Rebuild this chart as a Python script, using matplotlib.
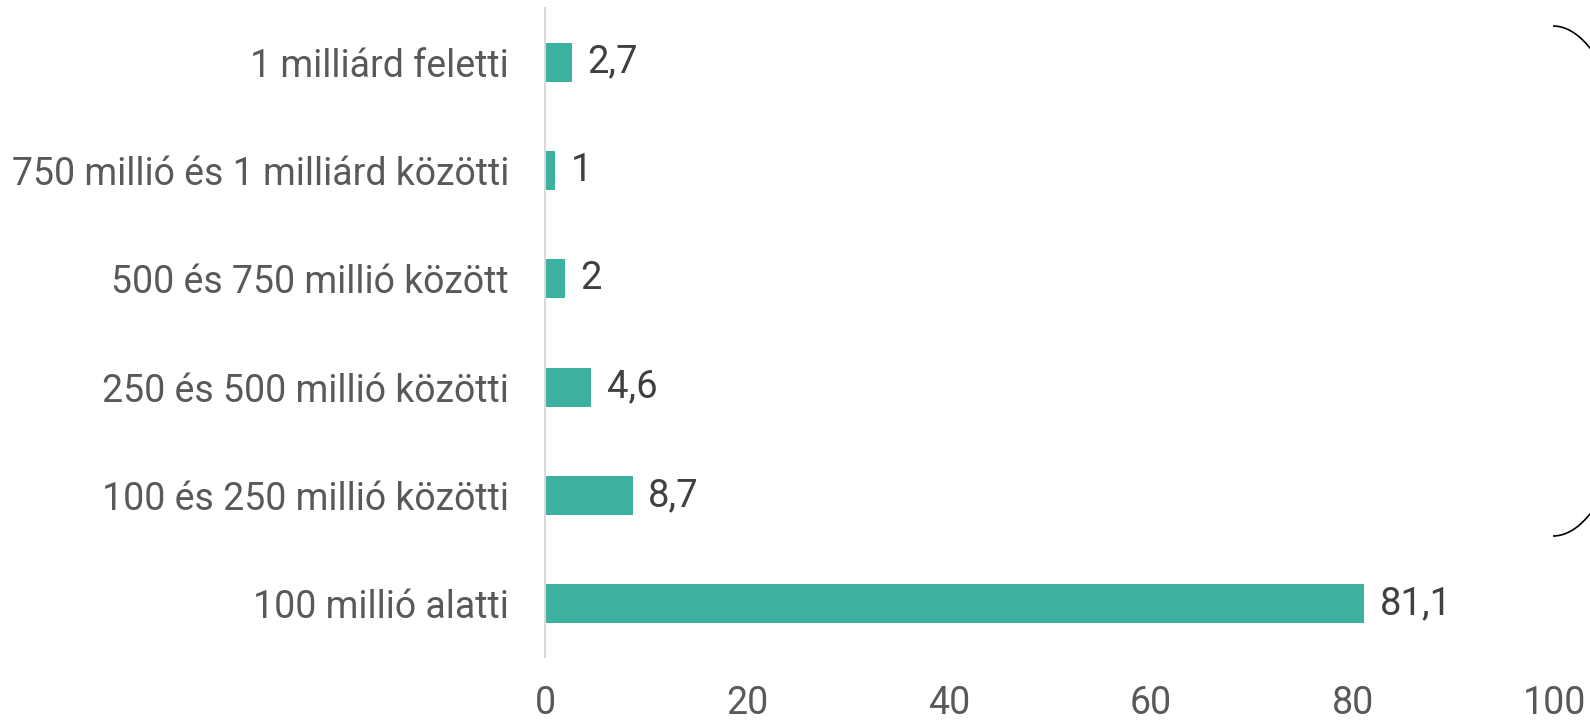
import matplotlib
matplotlib.use("Agg")
import matplotlib.pyplot as plt
from matplotlib.patches import Arc

categories = ["100 millió alatti", "100 és 250 millió közötti", "250 és 500 millió közötti",
              "500 és 750 millió között", "750 millió és 1 milliárd közötti", "1 milliárd feletti"]
values = [81.1, 8.7, 4.6, 2, 1, 2.7]
value_labels = ["81,1", "8,7", "4,6", "2", "1", "2,7"]
xticks = [0, 20, 40, 60, 80, 100]

plt.rcParams['font.family'] = ['Roboto', 'DejaVu Sans']

W, H = 1590, 721
fig = plt.figure(figsize=(W / 100, H / 100), dpi=100)
ax = fig.add_axes([545 / W, (H - 657) / H, (1555 - 545) / W, (657 - 8) / H])

bar_color = "#3db19f"
ypos = list(range(len(categories)))
ax.barh(ypos, values, height=0.36, color=bar_color)
for y, v, lab in zip(ypos, values, value_labels):
    ax.annotate(lab, (v, y), xytext=(11, 0), textcoords="offset points",
                va="center", ha="left", fontsize=27.5, color="#404040")

ax.set_xlim(0, 100)
ax.set_ylim(-0.49, 5.5)
ax.set_yticks(ypos)
ax.set_yticklabels(categories)
ax.set_xticks(xticks)
ax.set_xticklabels([str(t) for t in xticks])
ax.tick_params(axis="y", length=0, pad=26, labelsize=27, labelcolor="#595959")
ax.tick_params(axis="x", length=0, pad=20, labelsize=27, labelcolor="#595959")
for s in ["top", "right", "bottom"]:
    ax.spines[s].set_visible(False)
ax.spines["left"].set_color("#d9d9d9")
ax.spines["left"].set_linewidth(1.5)

# decorative bracket at right edge
arc = Arc((1553, H - 281), 182, 510, theta1=-90, theta2=90, transform=None,
          color="black", linewidth=1.2)
fig.patches.append(arc)

fig.savefig("out.png", dpi=100)
